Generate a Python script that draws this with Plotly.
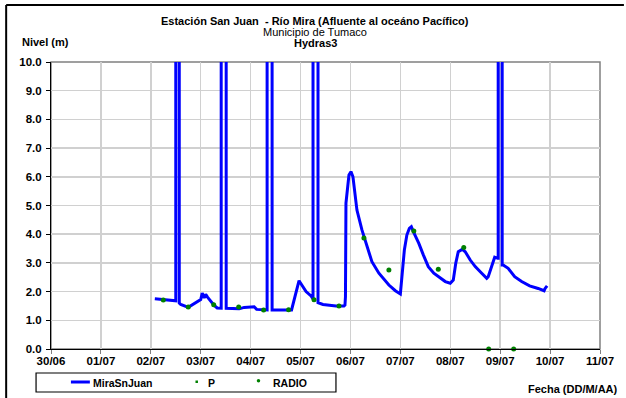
import plotly.graph_objects as go

# x = days since 30/06 00:00
tick_labels = ["30/06", "01/07", "02/07", "03/07", "04/07", "05/07",
               "06/07", "07/07", "08/07", "09/07", "10/07", "11/07"]

mira_days = [2.08, 2.26, 2.47, 2.50, 2.50, 2.57, 2.57, 2.60, 2.75, 2.85, 2.94, 3.00,
             3.03, 3.07, 3.10, 3.14, 3.27, 3.33, 3.41, 3.41, 3.51, 3.51, 3.77, 3.87,
             4.07, 4.12, 4.33, 4.33, 4.43, 4.43, 4.82, 4.97, 5.11, 5.21, 5.25, 5.25,
             5.35, 5.35, 5.45, 5.71, 5.87, 5.89, 5.90, 5.91, 5.97, 6.01, 6.05, 6.13,
             6.23, 6.33, 6.43, 6.57, 6.77, 6.90, 7.00, 7.08, 7.13, 7.18, 7.22, 7.26,
             7.37, 7.46, 7.56, 7.67, 7.76, 7.90, 8.00, 8.06, 8.11, 8.16, 8.24, 8.30,
             8.40, 8.50, 8.63, 8.73, 8.76, 8.83, 8.89, 8.95, 8.96, 8.96, 9.04, 9.04,
             9.06, 9.16, 9.29, 9.43, 9.59, 9.76, 9.88, 9.90, 9.94]
mira_level = [1.75, 1.72, 1.68, 1.68, 20.0, 20.0, 1.60, 1.55, 1.45, 1.55, 1.65, 1.72,
              1.95, 1.78, 1.90, 1.80, 1.52, 1.43, 1.42, 20.0, 20.0, 1.42, 1.40, 1.45,
              1.47, 1.38, 1.36, 20.0, 20.0, 1.36, 1.36, 2.38, 2.00, 1.85, 1.75, 20.0,
              20.0, 1.61, 1.55, 1.50, 1.50, 1.53, 1.82, 5.08, 6.06, 6.18, 6.00, 4.84,
              4.15, 3.56, 3.04, 2.64, 2.23, 2.03, 1.92, 3.45, 3.97, 4.20, 4.26, 4.09,
              3.68, 3.28, 2.87, 2.64, 2.52, 2.35, 2.29, 2.40, 2.99, 3.39, 3.47, 3.39,
              3.10, 2.87, 2.64, 2.46, 2.52, 2.93, 3.20, 3.16, 3.16, 20.0, 20.0, 2.93,
              2.93, 2.81, 2.52, 2.35, 2.20, 2.11, 2.03, 2.11, 2.20]

p_days = [8.77, 9.27]
p_level = [0.0, 0.0]

radio_days = [2.25, 2.75, 3.26, 3.76, 4.26, 4.76, 5.27, 5.77, 6.27, 6.77, 7.27, 7.76, 8.27]
radio_level = [1.71, 1.46, 1.54, 1.46, 1.36, 1.37, 1.72, 1.50, 3.87, 2.75, 4.11, 2.78, 3.54]

FONT = "Liberation Sans, Arial, sans-serif"

fig = go.Figure()
fig.add_trace(go.Scatter(x=mira_days, y=mira_level, mode="lines", name="MiraSnJuan",
                         line=dict(color="#0000FF", width=3), showlegend=False))
fig.add_trace(go.Scatter(x=p_days, y=p_level, mode="markers", name="P",
                         marker=dict(color="#008000", size=5, symbol="circle"),
                         cliponaxis=False, showlegend=False))
fig.add_trace(go.Scatter(x=radio_days, y=radio_level, mode="markers", name="RADIO",
                         marker=dict(color="#008000", size=5, symbol="circle"),
                         cliponaxis=False, showlegend=False))

W, H = 626, 398
L, R, T, B = 51, 24, 62, 49

fig.update_layout(
    width=W, height=H,
    margin=dict(l=L, r=R, t=T, b=B),
    paper_bgcolor="white", plot_bgcolor="white",
    font=dict(family=FONT, size=11, color="black"),
    showlegend=False,
)
fig.update_xaxes(
    range=[0, 11], tickmode="array", tickvals=list(range(len(tick_labels))),
    ticktext=tick_labels, tickfont=dict(family=FONT, size=11.5, color="black", weight="bold"),
    showgrid=True, gridcolor="#d0d0d0", gridwidth=1.5,
    showline=True, linecolor="black", linewidth=1, mirror=False,
    ticks="outside", ticklen=4, tickcolor="#808080", zeroline=False,
    ticklabelstandoff=-3,
)
fig.update_yaxes(
    range=[0, 10], dtick=1, tickformat=".1f",
    tickfont=dict(family=FONT, size=11.5, color="black", weight="bold"),
    showgrid=True, gridcolor="#d0d0d0", gridwidth=1.5,
    showline=True, linecolor="black", linewidth=1,
    ticks="outside", ticklen=4, tickcolor="black", zeroline=False,
    ticklabelstandoff=2,
)

# plot-area border (gray)
fig.add_shape(type="rect", xref="paper", yref="paper", x0=0, x1=1, y0=0, y1=1,
              line=dict(color="#808080", width=1.5), layer="below")

def px_x(v):
    return (v - L) / (W - L - R)
def px_y(v):
    return (H - B - v) / (H - T - B)

# outer frame lines (top and left)
fig.add_shape(type="line", xref="paper", yref="paper", x0=px_x(6), x1=px_x(626),
              y0=px_y(5), y1=px_y(5), line=dict(color="black", width=2))
fig.add_shape(type="line", xref="paper", yref="paper", x0=px_x(6), x1=px_x(6),
              y0=px_y(5), y1=px_y(398), line=dict(color="black", width=2))

def ann(text, x, y, size=11, bold=True, xanchor="center"):
    fig.add_annotation(text=text, xref="paper", yref="paper", x=px_x(x), y=px_y(y),
                       xanchor=xanchor, yanchor="middle", showarrow=False,
                       font=dict(family=FONT, size=size, color="black",
                                 weight="bold" if bold else "normal"))

ann("Estación San Juan  - Río Mira (Afluente al oceáno Pacífico)", 316, 21, 11, True)
ann("Municipio de Tumaco", 316, 32, 11, False)
ann("Hydras3", 316, 43, 11, True)
ann("Nivel (m)", 20, 42, 11, True, "left")
ann("Fecha (DD/M/AA)", 622, 389, 11, True, "right")

# legend box
fig.add_shape(type="rect", xref="paper", yref="paper", x0=px_x(36), x1=px_x(337),
              y0=px_y(392), y1=px_y(373), line=dict(color="black", width=1.2))
fig.add_shape(type="line", xref="paper", yref="paper", x0=px_x(71), x1=px_x(90),
              y0=px_y(382), y1=px_y(382), line=dict(color="#0000FF", width=3))
ann("MiraSnJuan", 91, 383, 10.5, True, "left")
fig.add_shape(type="rect", xref="paper", yref="paper", x0=px_x(196), x1=px_x(198.5),
              y0=px_y(383), y1=px_y(380.5), fillcolor="#008000", line=dict(width=0))
ann("P", 207, 383, 10.5, True, "left")
fig.add_shape(type="circle", xref="paper", yref="paper", x0=px_x(257.5), x1=px_x(261),
              y0=px_y(382.5), y1=px_y(379), fillcolor="#008000", line=dict(width=0))
ann("RADIO", 272, 383, 10.5, True, "left")

fig.write_html("out.html", config={"displayModeBar": False, "staticPlot": True},
               post_script="document.body.style.margin='0';")
